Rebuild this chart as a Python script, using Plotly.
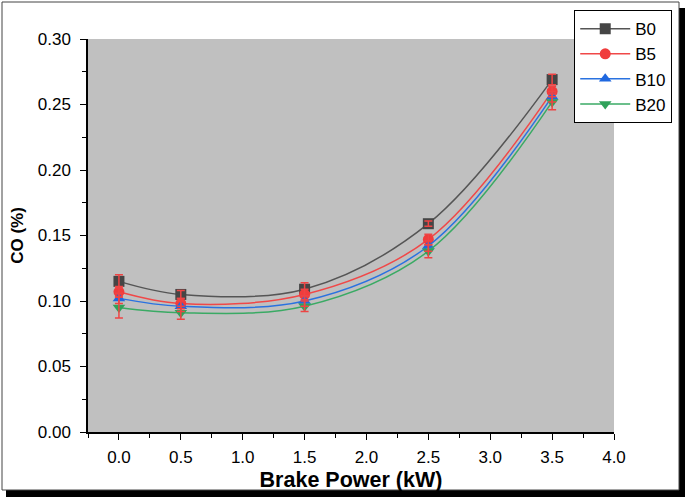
import plotly.graph_objects as go

power = [0.0, 0.5, 1.5, 2.5, 3.5]
series_names = ["B0", "B5", "B10", "B20"]
co_B0 = [0.115, 0.105, 0.109, 0.159, 0.269]
co_B5 = [0.107, 0.098, 0.105, 0.147, 0.260]
co_B10 = [0.102, 0.096, 0.100, 0.142, 0.256]
co_B20 = [0.095, 0.091, 0.096, 0.138, 0.252]
err_B0 = [0.005, 0.003, 0.005, 0.002, 0.004]
err_B5 = [0.004, 0.004, 0.004, 0.004, 0.004]
err_B10 = [0.004, 0.004, 0.004, 0.004, 0.004]
err_B20 = [0.008, 0.005, 0.004, 0.005, 0.006]

values = [co_B0, co_B5, co_B10, co_B20]
errors = [err_B0, err_B5, err_B10, err_B20]
line_colors = ["#555555", "#f04848", "#2a72e0", "#3aaa64"]
marker_colors = ["#454545", "#f03c3c", "#1f68e0", "#30a25a"]
symbols = ["square", "circle", "triangle-up", "triangle-down"]

fig = go.Figure()
for name, vals, lc, mc, sym in zip(series_names, values, line_colors, marker_colors, symbols):
    fig.add_trace(go.Scatter(
        x=power, y=vals, name=name, mode="lines+markers",
        line=dict(color=lc, width=1.5, shape="spline", smoothing=1.0),
        marker=dict(symbol=sym, size=11, color=mc),
    ))
for vals, err in zip(values, errors):
    fig.add_trace(go.Scatter(
        x=power, y=vals, mode="markers", showlegend=False, hoverinfo="skip",
        marker=dict(size=1, opacity=0),
        error_y=dict(type="data", array=err, visible=True, color="#ee4444", thickness=1.5, width=4),
    ))

axis_common = dict(
    showline=True, linecolor="black", linewidth=1.5, showgrid=False, zeroline=False,
    ticks="outside", ticklen=6, tickwidth=1.2, tickcolor="black",
    tickfont=dict(family="Liberation Sans, Arial", size=17, color="black"),
    mirror=False,
)
fig.update_xaxes(
    range=[-0.25, 4.0], tickmode="array", tickvals=[0, 0.5, 1, 1.5, 2, 2.5, 3, 3.5, 4],
    ticktext=["0.0", "0.5", "1.0", "1.5", "2.0", "2.5", "3.0", "3.5", "4.0"],
    minor=dict(tickvals=[-0.25, 0.25, 0.75, 1.25, 1.75, 2.25, 2.75, 3.25, 3.75], ticks="outside", ticklen=4, tickcolor="black", tickwidth=1.2),
    title=dict(text="<b>Brake Power (kW)</b>", font=dict(family="Liberation Sans, Arial", size=21.5, color="black"), standoff=6),
    ticklabelstandoff=3,
    **axis_common,
)
fig.update_yaxes(
    range=[0, 0.30], tickmode="array", tickvals=[0, 0.05, 0.10, 0.15, 0.20, 0.25, 0.30],
    ticktext=["0.00", "0.05", "0.10", "0.15", "0.20", "0.25", "0.30"],
    minor=dict(tickvals=[0.025, 0.075, 0.125, 0.175, 0.225, 0.275], ticks="outside", ticklen=4, tickcolor="black", tickwidth=1.2),
    title=dict(text="<b>CO (%)</b>", font=dict(family="Liberation Sans, Arial", size=17, color="black"), standoff=10),
    ticklabelstandoff=6,
    **axis_common,
)

fig.update_layout(
    width=685, height=497,
    margin=dict(l=88, r=71, t=39, b=65, autoexpand=False),
    paper_bgcolor="white", plot_bgcolor="#c0c0c0",
    showlegend=True,
    legend=dict(
        x=0.924, y=1.074, xanchor="left", yanchor="top",
        bgcolor="white", bordercolor="black", borderwidth=1.2,
        font=dict(family="Liberation Sans, Arial", size=17, color="black"),
        itemsizing="trace", tracegroupgap=0, itemwidth=50,
    ),
    shapes=[
        dict(type="rect", xref="paper", yref="paper", layer="below",
             x0=(679 - 88) / 526, x1=(686 - 88) / 526, y0=(432 - 498) / 393, y1=(432 - 8) / 393,
             fillcolor="black", line=dict(width=0)),
        dict(type="rect", xref="paper", yref="paper", layer="below",
             x0=(6 - 88) / 526, x1=(686 - 88) / 526, y0=(432 - 498) / 393, y1=(432 - 490) / 393,
             fillcolor="black", line=dict(width=0)),
        dict(type="rect", xref="paper", yref="paper", layer="below",
             x0=(2 - 88) / 526, x1=(679 - 88) / 526, y0=(432 - 490) / 393, y1=(432 - 2) / 393,
             fillcolor="rgba(0,0,0,0)", line=dict(width=1, color="#444444")),
    ],
)

fig.write_html("out.html", config={"displayModeBar": False},
               post_script="document.body.style.margin='0';document.body.style.overflow='hidden';")
